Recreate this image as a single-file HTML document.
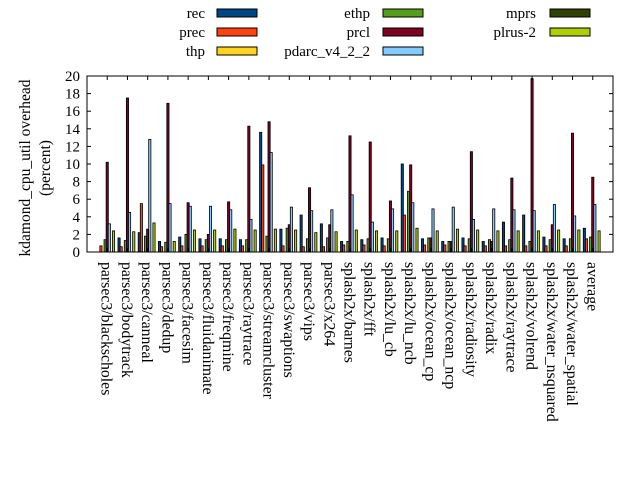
<!DOCTYPE html>
<html><head><style>body{margin:0;background:#fff}svg{display:block}text{font-family:"Liberation Serif",serif;font-size:15px;fill:#000}</style></head>
<body>
<svg id="s" width="640" height="480" xmlns="http://www.w3.org/2000/svg"></svg>
<script>
const s=document.getElementById('s');
let h='';
const L=87,R=613,T=76,B=252,py=(B-T)/20,gw=(R-L)/26;
const cols=['#004586','#ff420e','#ffd320','#579d1c','#7e0021','#83caff','#314004','#aecf00'];
const names=['parsec3/blackscholes','parsec3/bodytrack','parsec3/canneal','parsec3/dedup','parsec3/facesim','parsec3/fluidanimate','parsec3/freqmine','parsec3/raytrace','parsec3/streamcluster','parsec3/swaptions','parsec3/vips','parsec3/x264','splash2x/barnes','splash2x/fft','splash2x/lu_cb','splash2x/lu_ncb','splash2x/ocean_cp','splash2x/ocean_ncp','splash2x/radiosity','splash2x/radix','splash2x/raytrace','splash2x/volrend','splash2x/water_nsquared','splash2x/water_spatial','average'];
const d=[
[0,0.7,0,1.4,10.2,3.2,0,2.4],
[1.6,0.6,0,1.3,17.5,4.5,0,2.3],
[2.2,5.5,0,1.8,2.6,12.8,0,3.3],
[1.2,0.6,0,1.1,16.9,5.5,0,1.2],
[1.7,0.7,0,2.0,5.6,5.2,0,2.5],
[1.5,0.7,0,1.4,2.0,5.2,0,2.5],
[1.5,0.7,0,1.4,5.7,4.8,0,2.6],
[1.4,0.7,0,1.4,14.3,3.7,0,2.5],
[13.6,9.9,0,1.8,14.8,11.3,0,2.6],
[2.6,0.7,0,2.7,3.1,5.1,0,2.5],
[4.2,0.6,0,1.5,7.3,4.7,0,2.2],
[3.2,0.6,0,1.6,3.1,4.8,0,2.3],
[1.2,0.8,0,1.2,13.2,6.5,0,2.5],
[1.4,0.8,0,1.5,12.5,3.4,0,2.4],
[1.6,0.7,0,1.5,5.8,4.9,0,2.4],
[10.0,4.2,0,6.9,9.9,5.6,0,2.7],
[1.5,0.8,0,1.6,1.6,4.9,0,2.4],
[1.2,0.8,0,1.2,1.2,5.1,0,2.6],
[1.6,0.7,0,1.5,11.4,3.7,0,2.5],
[1.2,0.7,0,1.4,1.2,4.9,0,2.4],
[3.4,0.7,0,1.4,8.4,4.8,0,2.4],
[4.2,0.7,0,1.2,19.7,4.7,0,2.4],
[1.7,0.7,0,1.4,3.1,5.4,0,2.5],
[1.5,0.7,0,1.5,13.5,4.1,0,2.5],
[2.7,1.5,0,1.7,8.5,5.4,0,2.4]];
const bw=2.2;
d.forEach((g,i)=>{const c=L+gw*(i+1);
 g.forEach((v,k)=>{if(v<=0)return;const x=c+(k-4)*2.1-bw/2;const y=B-v*py;
  h+=`<rect x="${x.toFixed(2)}" y="${y.toFixed(2)}" width="${bw}" height="${(v*py).toFixed(2)}" fill="${cols[k]}" stroke="#000" stroke-width="0.8"/>`;});
 h+=`<line x1="${c}" y1="${T}" x2="${c}" y2="${T+4}" stroke="#000"/><line x1="${c}" y1="${B}" x2="${c}" y2="${B-4}" stroke="#000"/>`;
 h+=`<text transform="translate(${c-5.5},262) rotate(90)" style="font-size:15.8px">${names[i]}</text>`;
});
for(let v=0;v<=20;v+=2){const y=B-v*py;
 h+=`<line x1="${L}" y1="${y}" x2="${L+4}" y2="${y}" stroke="#000"/><line x1="${R}" y1="${y}" x2="${R-4}" y2="${y}" stroke="#000"/>`;
 h+=`<text x="80" y="${y+5}" text-anchor="end">${v}</text>`;}
h+=`<rect x="${L}" y="${T}" width="${R-L}" height="${B-T}" fill="none" stroke="#000" stroke-width="1"/>`;
h+=`<text transform="translate(30,168) rotate(-90)" text-anchor="middle" style="font-size:15.5px">kdamond_cpu_util overhead</text>`;
h+=`<text transform="translate(50,168) rotate(-90)" text-anchor="middle" style="font-size:15.5px">(percent)</text>`;
const leg=[['rec',205,217,13],['prec',205,217,32],['thp',205,217,51],['ethp',370,383,13],['prcl',370,383,32],['pdarc_v4_2_2',370,383,51],['mprs',536,550,13],['plrus-2',536,550,32]];
leg.forEach((l,k)=>{h+=`<text x="${l[1]}" y="${l[3]+5}" text-anchor="end">${l[0]}</text><rect x="${l[2]}" y="${l[3]-4}" width="40" height="8" fill="${cols[k]}" stroke="#000" stroke-width="1"/>`;});
s.innerHTML=h;
</script>
</body></html>
